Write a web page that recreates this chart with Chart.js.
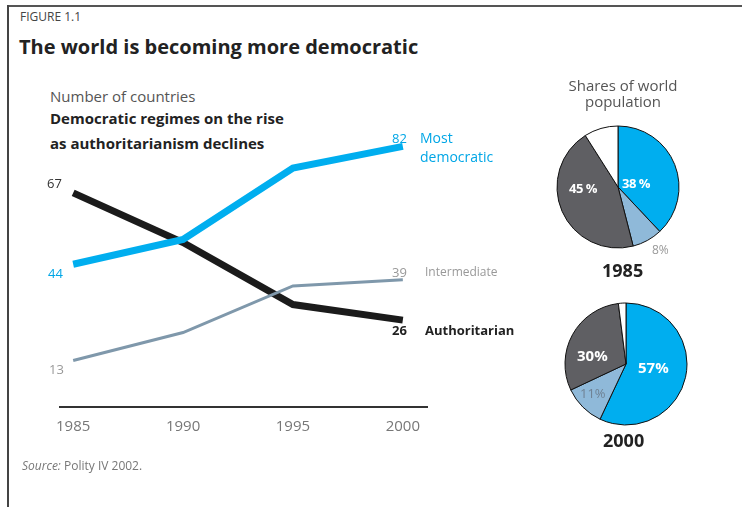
<!DOCTYPE html>
<html>
<head>
<meta charset="utf-8">
<script src="https://cdn.jsdelivr.net/npm/chart.js@4.4.1/dist/chart.umd.min.js"></script>
<style>
  html, body { margin: 0; padding: 0; background: #fff; }
  #page { position: relative; width: 742px; height: 507px; overflow: hidden; font-family: "Open Sans", sans-serif; }
  #frameTop { position: absolute; left: 8px; top: 5px; width: 734px; height: 2px; background: #555; }
  #frameLeft { position: absolute; left: 7px; top: 5px; width: 2px; height: 502px; background: #444; }
  .t { position: absolute; line-height: 20px; white-space: nowrap; }
  .box { position: absolute; }
</style>
</head>
<body>
<div id="page">
  <div id="frameTop"></div>
  <div id="frameLeft"></div>

  <div class="t" style="left:20px;top:7px;font-size:12px;color:#444;">FIGURE 1.1</div>
  <div class="t" style="left:19px;top:36px;font-size:20px;font-weight:700;color:#222;line-height:22px;">The world is becoming more democratic</div>
  <div class="t" style="left:50px;top:86px;font-size:15px;color:#555;">Number of countries</div>
  <div class="t" style="left:50px;top:108px;font-size:15px;font-weight:700;color:#222;">Democratic regimes on the rise</div>
  <div class="t" style="left:50px;top:133px;font-size:15px;font-weight:700;color:#222;">as authoritarianism declines</div>

  <div class="box" style="left:0;top:0;width:742px;height:507px;"><canvas id="lineChart"></canvas></div>

  <!-- series value labels -->
  <div class="t" style="left:47px;top:173px;font-size:13px;color:#333;">67</div>
  <div class="t" style="left:48px;top:263px;font-size:13px;color:#00a6e6;">44</div>
  <div class="t" style="left:49px;top:359px;font-size:13px;color:#999;">13</div>
  <div class="t" style="left:392px;top:128px;font-size:13px;color:#00a6e6;">82</div>
  <div class="t" style="left:420px;top:128px;font-size:14px;color:#00a6e6;line-height:19px;">Most<br>democratic</div>
  <div class="t" style="left:392px;top:262px;font-size:13px;color:#999;">39</div>
  <div class="t" style="left:425px;top:262px;font-size:12px;color:#999;">Intermediate</div>
  <div class="t" style="left:392px;top:320px;font-size:13px;font-weight:700;color:#222;">26</div>
  <div class="t" style="left:425px;top:320px;font-size:13px;font-weight:700;color:#222;">Authoritarian</div>

  <!-- pies -->
  <div class="t" style="left:553px;top:77px;width:140px;text-align:center;font-size:15px;color:#555;line-height:16px;">Shares of world<br>population</div>
  <div class="box" style="left:553px;top:122px;width:130px;height:130px;"><canvas id="pie1985"></canvas></div>
  <div class="box" style="left:561px;top:299px;width:130px;height:130px;"><canvas id="pie2000"></canvas></div>

  <div class="t" style="left:622px;top:173px;font-size:13px;font-weight:700;color:#fff;letter-spacing:-0.5px;">38 %</div>
  <div class="t" style="left:569px;top:178px;font-size:13px;font-weight:700;color:#fff;letter-spacing:-0.5px;">45 %</div>
  <div class="t" style="left:652px;top:240px;font-size:12px;color:#999;">8%</div>
  <div class="t" style="left:602px;top:259px;font-size:18px;font-weight:700;color:#222;line-height:22px;">1985</div>

  <div class="t" style="left:638px;top:357px;font-size:15px;font-weight:700;color:#fff;">57%</div>
  <div class="t" style="left:577px;top:345px;font-size:15px;font-weight:700;color:#fff;">30%</div>
  <div class="t" style="left:580px;top:383px;font-size:13px;color:#6f8294;">11%</div>
  <div class="t" style="left:603px;top:429px;font-size:18px;font-weight:700;color:#222;line-height:22px;">2000</div>

  <div class="t" style="left:22px;top:456px;font-size:12px;color:#777;"><i>Source:</i> Polity IV 2002.</div>
</div>

<script>
const years = [1985, 1990, 1995, 2000];
const mostDemocratic = [44, 52, 75, 82];
const intermediate = [13, 22, 37, 39];
const authoritarian = [67, 51, 31, 26];

const shareLabels = ['Most democratic', 'Intermediate', 'Authoritarian', 'Other'];
const shares1985 = [38, 8, 45, 9];
const shares2000 = [57, 11, 30, 2];

const blue = '#00aeef';
const grey = '#7f98ab';
const black = '#1b1b1b';

const toPoints = (vals) => vals.map((v, i) => ({ x: years[i], y: v }));

new Chart(document.getElementById('lineChart'), {
  type: 'line',
  data: {
    datasets: [
      { label: 'Most democratic', data: toPoints(mostDemocratic), borderColor: blue, borderWidth: 7 },
      { label: 'Intermediate', data: toPoints(intermediate), borderColor: grey, borderWidth: 3 },
      { label: 'Authoritarian', data: toPoints(authoritarian), borderColor: black, borderWidth: 7 },
    ],
  },
  options: {
    responsive: true,
    maintainAspectRatio: false,
    animation: false,
    events: [],
    elements: {
      point: { radius: 0 },
      line: { tension: 0, borderJoinStyle: 'miter', borderCapStyle: 'butt', fill: false },
    },
    layout: { padding: { left: 60, right: 315, top: 137, bottom: 0 } },
    plugins: { legend: { display: false }, tooltip: { enabled: false } },
    scales: {
      x: {
        type: 'linear',
        min: 1984.4,
        max: 2001.1,
        afterBuildTicks: (scale) => { scale.ticks = years.map((v) => ({ value: v })); },
        afterFit: (scale) => { scale.height = 100; },
        grid: { display: false },
        border: { display: true, color: '#333', width: 2 },
        ticks: {
          padding: 3,
          color: '#777',
          font: { family: 'Open Sans', size: 15 },
          callback: (v) => String(v),
        },
      },
      y: { display: false, min: -2, max: 85 },
    },
  },
});

function makePie(id, values) {
  new Chart(document.getElementById(id), {
    type: 'pie',
    data: {
      labels: shareLabels,
      datasets: [{
        data: values,
        backgroundColor: [blue, '#8fb9d9', '#5f5f63', '#ffffff'],
        borderColor: '#111',
        borderWidth: 1,
      }],
    },
    options: {
      responsive: true,
      maintainAspectRatio: false,
      animation: false,
      events: [],
      radius: 61,
      plugins: { legend: { display: false }, tooltip: { enabled: false } },
    },
  });
}

makePie('pie1985', shares1985);
makePie('pie2000', shares2000);
</script>
</body>
</html>
